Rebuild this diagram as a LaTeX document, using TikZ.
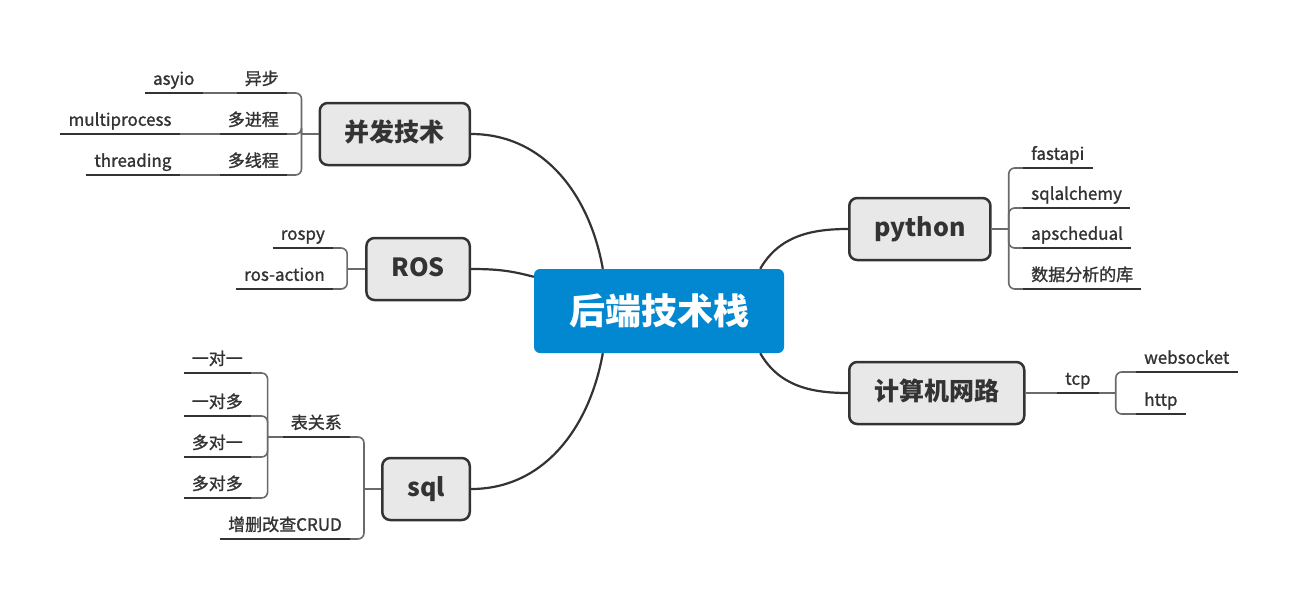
\documentclass[tikz,border=0pt]{standalone}
\usepackage{fontspec}
\setmainfont{Noto Sans CJK SC}
\newfontfamily\leaffont{Noto Sans CJK SC}[FakeBold=1.2]
\usepackage{xcolor}
\usepackage{tikz}
\usetikzlibrary{positioning}

\definecolor{rootblue}{HTML}{0288D1}
\definecolor{boxgray}{HTML}{E8E8E8}
\definecolor{linedark}{HTML}{333333}
\definecolor{linegray}{HTML}{6A6A6A}

\begin{document}
\begin{tikzpicture}[
		x=1pt, y=1pt,
		every node/.style={text=linedark},
		root/.style={rectangle, rounded corners=6pt, fill=rootblue, minimum width=250pt, minimum height=84pt, text=white, font=\fontsize{36}{40}\selectfont\bfseries},
		topic/.style={rectangle, draw=linedark, line width=2.5pt, rounded corners=8pt, fill=boxgray, minimum height=62pt, inner xsep=25pt, text height=19pt, text depth=5pt, font=\fontsize{25}{30}\selectfont\bfseries},
		leaf/.style={rectangle, inner xsep=8pt, inner ysep=4pt, text height=13pt, text depth=4pt, font=\leaffont\fontsize{17}{20}\selectfont},
		underline/.style={draw=linedark, line width=1.6pt},
		link/.style={draw=linegray, line width=1.6pt},
		branch/.style={draw=linedark, line width=2.2pt}
		]
		\useasboundingbox (0,0) rectangle (1304,-603);
		
		% Nodes
		\node[root] (root) at (659,-311) {后端技术栈};
		
		\node[topic, anchor=east] (bingfa) at (471,-134) {并发技术};
		\node[topic, anchor=east] (ros) at (471,-269) {ROS};
		\node[topic, anchor=east] (sql) at (471,-489) {sql};
		\node[topic, anchor=west] (python) at (848,-229) {python};
		\node[topic, anchor=west] (network) at (848,-393) {计算机网路};
		
		% Leaves
		\node[leaf, anchor=south east] (yibu) at (287,-93) {异步};
		\node[leaf, anchor=south east] (duojincheng) at (287,-134) {多进程};
		\node[leaf, anchor=south east] (duoxiancheng) at (287,-175) {多线程};
		\node[leaf, left=34pt of yibu] (asyio) {asyio};
		\node[leaf, left=40pt of duojincheng] (multiprocess) {multiprocess};
		\node[leaf, left=40pt of duoxiancheng] (threading) {threading};
		
		\node[leaf, anchor=south east] (rospy) at (333,-248) {rospy};
		\node[leaf, anchor=south east] (rosaction) at (333,-289) {ros-action};
		
		\node[leaf, anchor=south east] (biaoguanxi) at (350,-437) {表关系};
		\node[leaf, anchor=south east] (crud) at (350,-539) {增删改查CRUD};
		\node[leaf, anchor=south east] (yiduiyi) at (251,-373) {一对一};
		\node[leaf, anchor=south east] (yiduiduo) at (251,-416) {一对多};
		\node[leaf, anchor=south east] (duoduiyi) at (251,-457) {多对一};
		\node[leaf, anchor=south east] (duoduiduo) at (251,-498) {多对多};
		
		\node[leaf, anchor=south west] (fastapi) at (1023,-168) {fastapi};
		\node[leaf, anchor=south west] (sqlalchemy) at (1023,-208) {sqlalchemy};
		\node[leaf, anchor=south west] (apschedual) at (1023,-248) {apschedual};
		\node[leaf, anchor=south west] (shuju) at (1023,-289) {数据分析的库};
		
		\node[leaf, anchor=south west] (tcp) at (1057,-393) {tcp};
		\node[leaf, anchor=south west] (websocket) at (1136,-372) {websocket};
		\node[leaf, anchor=south west] (http) at (1136,-414) {http};
		
		% Forks
		\coordinate (bingfa-fork) at ([xshift=-17pt]bingfa.west);
		\coordinate (ros-fork) at ([xshift=-18pt]ros.west);
		\coordinate (sql-fork) at ([xshift=-17pt]sql.west);
		\coordinate (biaoguanxi-fork) at ([xshift=-15pt]biaoguanxi.south west);
		\coordinate (python-fork) at ([xshift=17pt]python.east);
		\coordinate (tcp-fork) at ([xshift=17pt]tcp.south east);
		
		% Main branches
		\draw[branch] (bingfa.east) to[out=0, in=100] ([xshift=69pt]root.north west);
		\draw[branch] (ros.east) to[out=0, in=165] ([yshift=-8pt]root.north west);
		\draw[branch] (sql.east) to[out=0, in=-100] ([xshift=69pt]root.south west);
		\draw[branch] ([xshift=-24pt]root.north east) to[out=60, in=180] (python.west);
		\draw[branch] ([xshift=-24pt]root.south east) to[out=-60, in=180] (network.west);
		
		% Sub branches
		\draw[link] (bingfa.west) -- (bingfa-fork);
		\foreach \n in {yibu, duojincheng, duoxiancheng}
			\draw[link, rounded corners=6pt] (bingfa-fork) |- (\n.south east);
		\draw[link] (yibu.south west) -- (asyio.south east);
		\draw[link] (duojincheng.south west) -- (multiprocess.south east);
		\draw[link] (duoxiancheng.south west) -- (threading.south east);
		
		\draw[link] (ros.west) -- (ros-fork);
		\foreach \n in {rospy, rosaction}
			\draw[link, rounded corners=6pt] (ros-fork) |- (\n.south east);
		
		\draw[link] (sql.west) -- (sql-fork);
		\foreach \n in {biaoguanxi, crud}
			\draw[link, rounded corners=6pt] (sql-fork) |- (\n.south east);
		\draw[link] (biaoguanxi.south west) -- (biaoguanxi-fork);
		\foreach \n in {yiduiyi, yiduiduo, duoduiyi, duoduiduo}
			\draw[link, rounded corners=6pt] (biaoguanxi-fork) |- (\n.south east);
		
		\draw[link] (python.east) -- (python-fork);
		\foreach \n in {fastapi, sqlalchemy, apschedual, shuju}
			\draw[link, rounded corners=6pt] (python-fork) |- (\n.south west);
		
		\draw[link] (network.east) -- (tcp.south west);
		\draw[link] (tcp.south east) -- (tcp-fork);
		\foreach \n in {websocket, http}
			\draw[link, rounded corners=6pt] (tcp-fork) |- (\n.south west);
		
		% Underlines
		\foreach \n in {yibu, duojincheng, duoxiancheng, asyio, multiprocess, threading, rospy, rosaction, biaoguanxi, crud, yiduiyi, yiduiduo, duoduiyi, duoduiduo, fastapi, sqlalchemy, apschedual, shuju, tcp, websocket, http}
			\draw[underline] (\n.south west) -- (\n.south east);
		
	\end{tikzpicture}
\end{document}
